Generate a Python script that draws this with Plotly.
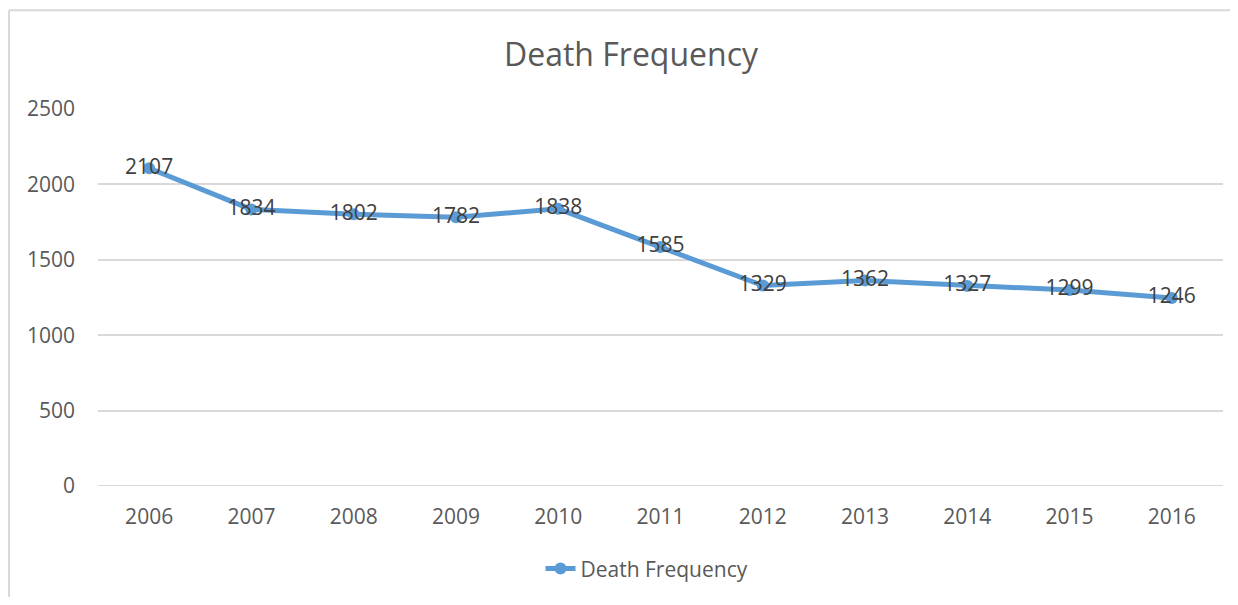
import plotly.graph_objects as go

years = ["2006", "2007", "2008", "2009", "2010", "2011", "2012", "2013", "2014", "2015", "2016"]
deaths = [2107, 1834, 1802, 1782, 1838, 1585, 1329, 1362, 1327, 1299, 1246]
series_name = "Death Frequency"
y_ticks = [0, 500, 1000, 1500, 2000, 2500]

BLUE = "#5B9BD5"
FONT = "Open Sans"

fig = go.Figure()
fig.add_trace(go.Scatter(
    x=years, y=deaths, name=series_name,
    mode="lines+markers+text",
    line=dict(color=BLUE, width=5),
    marker=dict(color=BLUE, size=12),
    text=[str(v) for v in deaths],
    textposition="middle center",
    textfont=dict(family=FONT, size=21, color="#404040"),
))

# page body has an 8px margin; figure sized to fit within the window
W, H = 1222, 589
L, R, T, B = 90, 7, 101, 106
pw, ph = W - L - R, H - T - B
bx, by = 1, 1  # outer border position (figure px)

fig.update_layout(
    width=W, height=H,
    margin=dict(l=L, r=R, t=T, b=B),
    paper_bgcolor="white", plot_bgcolor="white",
    font=dict(family=FONT, color="#595959"),
    title=dict(text="Death Frequency", x=(631 - 8 - L) / pw, xanchor="center", xref="paper",
               y=1 - 47 / H, yanchor="middle",
               font=dict(family=FONT, size=32, color="#595959")),
    showlegend=True,
    legend=dict(orientation="h", x=(639 - L) / pw, xanchor="center",
                y=-84 / ph,
                yanchor="middle", font=dict(family=FONT, size=21, color="#595959")),
    xaxis=dict(type="category", range=[-0.5, len(years) - 0.5], showgrid=False,
               showline=False, zeroline=False,
               ticks="", tickfont=dict(family=FONT, size=21, color="#595959"),
               ticklabelstandoff=16, fixedrange=True),
    yaxis=dict(range=[0, 2500], tickvals=y_ticks, showgrid=True, gridcolor="#D9D9D9",
               gridwidth=2, zeroline=False, showline=False, ticks="",
               tickfont=dict(family=FONT, size=21, color="#595959"),
               ticklabelstandoff=22),
    shapes=[
        dict(type="line", xref="paper", yref="paper",
             x0=(bx - L) / pw, x1=(bx - L) / pw, y0=(T + ph - by) / ph, y1=-0.5,
             line=dict(color="#D9D9D9", width=2)),
        dict(type="line", xref="paper", yref="paper",
             x0=(bx - L) / pw, x1=1.2, y0=(T + ph - by) / ph, y1=(T + ph - by) / ph,
             line=dict(color="#D9D9D9", width=2)),
        dict(type="line", xref="paper", yref="y", x0=0, x1=1, y0=0, y1=0,
             line=dict(color="#D9D9D9", width=2), layer="below"),
    ],
)

fig.write_html("out.html")
